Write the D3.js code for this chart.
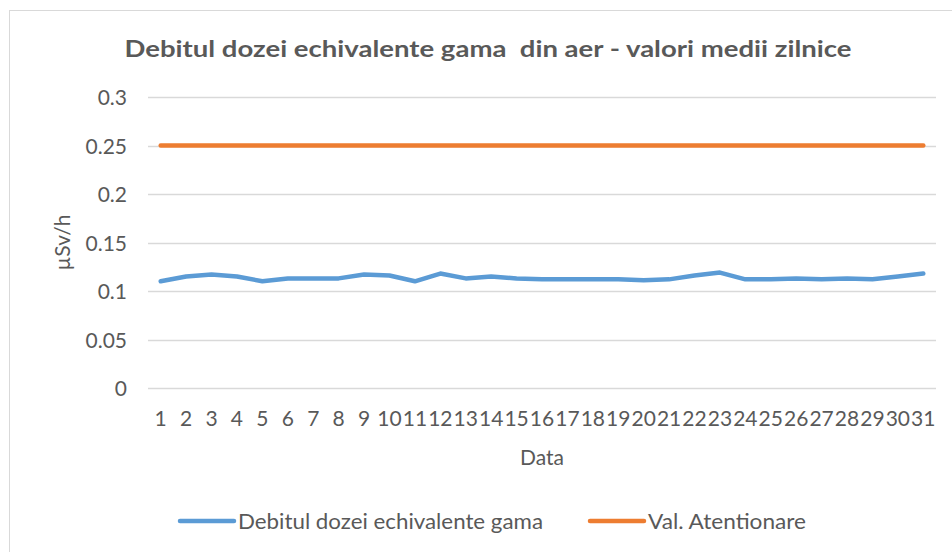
<!DOCTYPE html>
<html>
<head>
<meta charset="utf-8">
<script src="https://cdn.jsdelivr.net/npm/d3@7"></script>
<style>
  body { margin: 0; background: #fff; }
  svg { display: block; font-family: Lato, "Open Sans", sans-serif; }
</style>
</head>
<body>
<svg id="chart" width="952" height="552"></svg>
<script>
const days = d3.range(1, 32).map(String);
const doseRate = [0.110, 0.115, 0.117, 0.115, 0.110, 0.113, 0.113, 0.113, 0.117, 0.116,
                  0.110, 0.118, 0.113, 0.115, 0.113, 0.112, 0.112, 0.112, 0.112, 0.111,
                  0.112, 0.116, 0.119, 0.112, 0.112, 0.113, 0.112, 0.113, 0.112, 0.115, 0.118];
const alertLevel = days.map(() => 0.25);
const yTicks = [0, 0.05, 0.1, 0.15, 0.2, 0.25, 0.3];
const seriesNames = ['Debitul dozei echivalente gama', 'Val. Atentionare'];

const svg = d3.select('#chart');
const margin = { left: 148, right: 936, top: 97, bottom: 388 };

// chart frame
svg.append('rect').attr('x', 9.5).attr('y', 10.5).attr('width', 960).attr('height', 560)
  .attr('fill', '#fff').attr('stroke', '#d9d9d9').attr('stroke-width', 1);

const x = d3.scaleBand().domain(days).range([margin.left, margin.right]);
const y = d3.scaleLinear().domain([0, 0.3]).range([margin.bottom, margin.top]);

// gridlines
svg.append('g').selectAll('line').data(yTicks).join('line')
  .attr('x1', margin.left).attr('x2', margin.right)
  .attr('y1', d => Math.round(y(d)) + 0.5).attr('y2', d => Math.round(y(d)) + 0.5)
  .attr('stroke', '#d9d9d9').attr('stroke-width', 1.3);

// y axis labels
const yAxis = svg.append('g').attr('transform', `translate(${margin.left - 21},0)`)
  .call(d3.axisLeft(y).tickValues(yTicks).tickSize(0).tickPadding(0).tickFormat(d => String(+d.toFixed(2))));
yAxis.select('.domain').remove();
yAxis.selectAll('text').attr('font-size', 21).attr('fill', '#595959')
  .attr('font-family', 'Lato, sans-serif').attr('dy', '0.36em');

// x axis labels
const xAxis = svg.append('g').attr('transform', `translate(0,${margin.bottom + 22})`)
  .call(d3.axisBottom(x).tickSize(0).tickPadding(0));
xAxis.select('.domain').remove();
xAxis.selectAll('text').attr('font-size', 21).attr('fill', '#595959')
  .attr('font-family', 'Lato, sans-serif').attr('dy', '0.78em');

// series
const line = d3.line().x((d, i) => x(days[i]) + x.bandwidth() / 2).y(d => y(d));
svg.append('path').datum(alertLevel).attr('d', line)
  .attr('fill', 'none').attr('stroke', '#ed7d31').attr('stroke-width', 4.5).attr('stroke-linecap', 'round');
svg.append('path').datum(doseRate).attr('d', line)
  .attr('fill', 'none').attr('stroke', '#5b9bd5').attr('stroke-width', 4.5)
  .attr('stroke-linecap', 'round').attr('stroke-linejoin', 'round');

// titles
svg.append('text').attr('x', 488).attr('y', 57).attr('text-anchor', 'middle')
  .attr('font-size', 22).attr('font-weight', 'bold').attr('fill', '#595959')
  .style('white-space', 'pre')
  .attr('textLength', 727).attr('lengthAdjust', 'spacingAndGlyphs')
  .text('Debitul dozei echivalente gama  din aer - valori medii zilnice');

svg.append('text').attr('transform', `translate(70,${(margin.top + margin.bottom) / 2}) rotate(-90)`)
  .attr('text-anchor', 'middle').attr('font-size', 21).attr('fill', '#595959').text('µSv/h');

svg.append('text').attr('x', (margin.left + margin.right) / 2).attr('y', 465)
  .attr('text-anchor', 'middle').attr('font-size', 21).attr('fill', '#595959').text('Data');

// legend
const legendItems = [
  { label: seriesNames[0], color: '#5b9bd5', x: 180, w: 305 },
  { label: seriesNames[1], color: '#ed7d31', x: 590, w: 158 }
];
const lg = svg.append('g').selectAll('g').data(legendItems).join('g')
  .attr('transform', d => `translate(${d.x},521)`);
lg.append('line').attr('x1', 0).attr('x2', 54).attr('stroke', d => d.color)
  .attr('stroke-width', 4.5).attr('stroke-linecap', 'round');
lg.append('text').attr('x', 58).attr('dy', '0.36em').attr('font-size', 21)
  .attr('textLength', d => d.w).attr('lengthAdjust', 'spacingAndGlyphs')
  .attr('fill', '#595959').text(d => d.label);
</script>
</body>
</html>
